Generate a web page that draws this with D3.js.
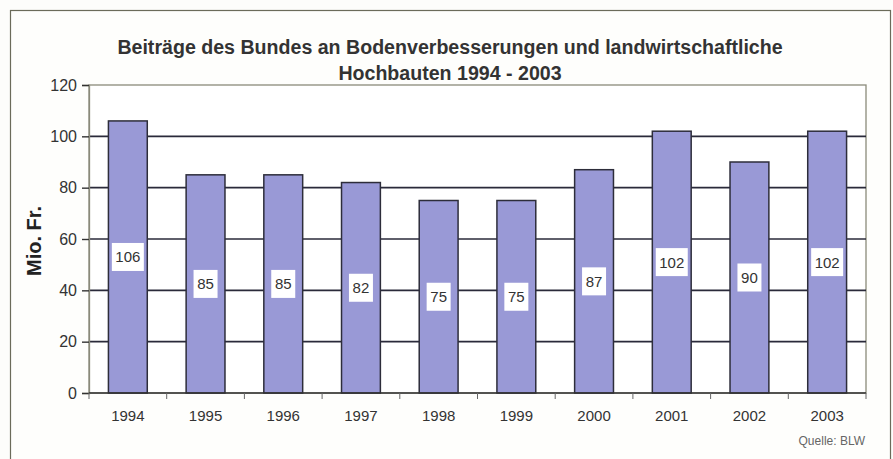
<!DOCTYPE html>
<html>
<head>
<meta charset="utf-8">
<script src="https://cdn.jsdelivr.net/npm/d3@7"></script>
<style>
  body { margin: 0; background: #fdfdfb; }
  svg { display: block; font-family: "Liberation Sans", Arial, sans-serif; }
</style>
</head>
<body>
<svg width="893" height="459"></svg>
<script>
const years = ["1994", "1995", "1996", "1997", "1998", "1999", "2000", "2001", "2002", "2003"];
const values = [106, 85, 85, 82, 75, 75, 87, 102, 90, 102];
const yTicks = [0, 20, 40, 60, 80, 100, 120];

const svg = d3.select("svg");
const plotLeft = 89, plotRight = 866, plotTop = 85, plotBottom = 393;

// outer frame
svg.append("rect")
    .attr("x", 10.5).attr("y", 10.5)
    .attr("width", 880).attr("height", 460)
    .attr("fill", "#fefefc")
    .attr("stroke", "#6b6b5a")
    .attr("stroke-width", 1.2);

const x = d3.scaleBand()
    .domain(years)
    .range([plotLeft, plotRight])
    .paddingInner(0.5)
    .paddingOuter(0.25);

const y = d3.scaleLinear()
    .domain([0, 120])
    .range([plotBottom, plotTop]);

// title
svg.append("text")
    .attr("x", 450).attr("y", 54)
    .attr("text-anchor", "middle")
    .attr("font-size", 19.6).attr("font-weight", "bold")
    .attr("fill", "#333")
    .text("Beiträge des Bundes an Bodenverbesserungen und landwirtschaftliche");
svg.append("text")
    .attr("x", 450).attr("y", 80)
    .attr("text-anchor", "middle")
    .attr("font-size", 19.6).attr("font-weight", "bold")
    .attr("fill", "#333")
    .text("Hochbauten 1994 - 2003");

// y axis label
svg.append("text")
    .attr("transform", "translate(41,241) rotate(-90)")
    .attr("text-anchor", "middle")
    .attr("font-size", 20).attr("font-weight", "bold")
    .attr("fill", "#222")
    .text("Mio. Fr.");

// plot border (grey)
svg.append("rect")
    .attr("x", plotLeft).attr("y", plotTop)
    .attr("width", plotRight - plotLeft).attr("height", plotBottom - plotTop)
    .attr("fill", "#fff")
    .attr("stroke", "#8a8a7a")
    .attr("stroke-width", 1.3);

// gridlines
svg.append("g")
    .selectAll("line")
    .data(yTicks.filter(d => d > 0 && d < 120))
    .join("line")
    .attr("x1", plotLeft).attr("x2", plotRight)
    .attr("y1", d => y(d)).attr("y2", d => y(d))
    .attr("stroke", "#2a2a3a")
    .attr("stroke-width", 1.6);

// y axis
const yAxis = svg.append("g")
    .attr("transform", `translate(${plotLeft},0)`)
    .call(d3.axisLeft(y).tickValues(yTicks).tickSize(7).tickPadding(5));
yAxis.select(".domain").attr("stroke", "#8a8a7a").attr("stroke-width", 1.3);
yAxis.selectAll(".tick line").attr("stroke", "#333").attr("stroke-width", 1.4);
yAxis.selectAll(".tick text")
    .attr("font-size", 16).attr("fill", "#333")
    .attr("font-family", "Liberation Sans, Arial, sans-serif");

// bars
svg.append("g")
    .selectAll("rect")
    .data(values)
    .join("rect")
    .attr("x", (d, i) => x(years[i]))
    .attr("y", d => y(d))
    .attr("width", x.bandwidth())
    .attr("height", d => y(0) - y(d))
    .attr("fill", "#9999d6")
    .attr("stroke", "#2d2d3a")
    .attr("stroke-width", 1.5);

// x axis with ticks between categories
const step = x.step();
const xAxis = svg.append("g").attr("transform", `translate(0,${plotBottom})`);
xAxis.append("line")
    .attr("x1", plotLeft).attr("x2", plotRight)
    .attr("stroke", "#333").attr("stroke-width", 1.5);
xAxis.selectAll("line.tk")
    .data(d3.range(years.length + 1))
    .join("line")
    .attr("class", "tk")
    .attr("x1", i => plotLeft + i * step).attr("x2", i => plotLeft + i * step)
    .attr("y1", 0).attr("y2", 6)
    .attr("stroke", "#666").attr("stroke-width", 1);
xAxis.selectAll("text")
    .data(years)
    .join("text")
    .attr("x", d => x(d) + x.bandwidth() / 2)
    .attr("y", 28)
    .attr("text-anchor", "middle")
    .attr("font-size", 15).attr("fill", "#333")
    .text(d => d);

// value labels in white boxes
const lbl = svg.append("g")
    .selectAll("g")
    .data(values)
    .join("g")
    .attr("transform", (d, i) => `translate(${x(years[i]) + x.bandwidth() / 2},${(y(d) + y(0)) / 2})`);
lbl.append("rect")
    .attr("x", d => String(d).length > 2 ? -16 : -12)
    .attr("y", -14)
    .attr("width", d => String(d).length > 2 ? 32 : 24)
    .attr("height", 28)
    .attr("fill", "#fff");
lbl.append("text")
    .attr("text-anchor", "middle")
    .attr("dy", "0.36em")
    .attr("font-size", 15).attr("fill", "#333")
    .text(d => d);

// source
svg.append("text")
    .attr("x", 865).attr("y", 445)
    .attr("text-anchor", "end")
    .attr("font-size", 12).attr("fill", "#666")
    .text("Quelle: BLW");
</script>
</body>
</html>
